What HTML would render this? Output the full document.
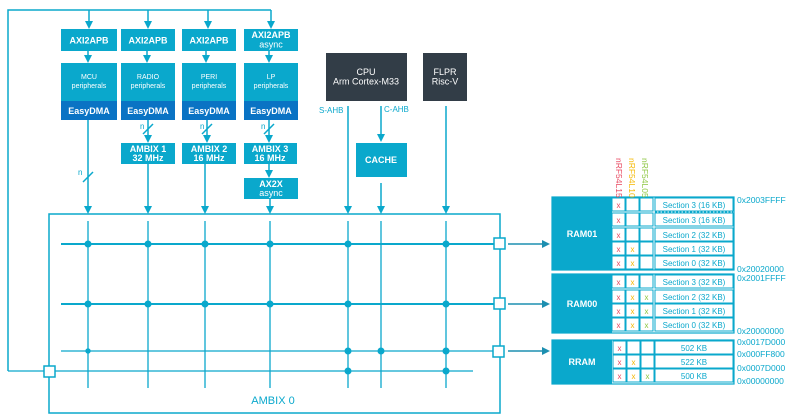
<!DOCTYPE html>
<html><head><meta charset="utf-8"><style>
html,body{margin:0;padding:0;background:#fff}
svg{display:block}
text{font-family:"Liberation Sans",sans-serif}
</style></head><body>
<svg width="796" height="415" viewBox="0 0 796 415" xmlns="http://www.w3.org/2000/svg">
<defs>
<marker id="a" markerWidth="8" markerHeight="8" refX="4" refY="4" orient="auto" markerUnits="userSpaceOnUse"><path d="M0,0 L8,4 L0,8 z" fill="#0aa8cc"/></marker>
<marker id="b" markerWidth="8" markerHeight="8" refX="6" refY="4" orient="auto" markerUnits="userSpaceOnUse"><path d="M0,0 L8,4 L0,8 z" fill="#1d8fb0"/></marker>
</defs>
<g stroke="#0aa8cc" stroke-width="1.5" fill="none">
<polyline points="8,371 8,10 271,10"/>
<line x1="89" y1="10" x2="89" y2="25" marker-end="url(#a)"/>
<line x1="148" y1="10" x2="148" y2="25" marker-end="url(#a)"/>
<line x1="208" y1="10" x2="208" y2="25" marker-end="url(#a)"/>
<line x1="271" y1="10" x2="271" y2="25" marker-end="url(#a)"/>
<line x1="88" y1="51" x2="88" y2="59" marker-end="url(#a)"/>
<line x1="147" y1="51" x2="147" y2="59" marker-end="url(#a)"/>
<line x1="206" y1="51" x2="206" y2="59" marker-end="url(#a)"/>
<line x1="269" y1="51" x2="269" y2="59" marker-end="url(#a)"/>
<line x1="148" y1="120" x2="148" y2="139" marker-end="url(#a)"/>
<line x1="207" y1="120" x2="207" y2="139" marker-end="url(#a)"/>
<line x1="269" y1="120" x2="269" y2="139" marker-end="url(#a)"/>
<line x1="269" y1="164" x2="269" y2="174" marker-end="url(#a)"/>
<line x1="88" y1="120" x2="88" y2="210" marker-end="url(#a)"/>
<line x1="148" y1="164" x2="148" y2="210" marker-end="url(#a)"/>
<line x1="205" y1="164" x2="205" y2="210" marker-end="url(#a)"/>
<line x1="270" y1="199" x2="270" y2="210" marker-end="url(#a)"/>
<line x1="348" y1="106" x2="348" y2="210" marker-end="url(#a)"/>
<line x1="381" y1="106" x2="381" y2="138" marker-end="url(#a)"/>
<line x1="381" y1="183" x2="381" y2="210" marker-end="url(#a)"/>
<line x1="446" y1="106" x2="446" y2="210" marker-end="url(#a)"/>
<line x1="83" y1="182" x2="93" y2="172"/>
<line x1="143" y1="134" x2="153" y2="124"/>
<line x1="202" y1="134" x2="212" y2="124"/>
<line x1="264" y1="134" x2="274" y2="124"/>
<rect x="49" y="214" width="451" height="199"/>
<g stroke-width="1.3">
<line x1="88" y1="221" x2="88" y2="388"/>
<line x1="148" y1="221" x2="148" y2="388"/>
<line x1="205" y1="221" x2="205" y2="388"/>
<line x1="270" y1="221" x2="270" y2="388"/>
<line x1="348" y1="221" x2="348" y2="388"/>
<line x1="381" y1="221" x2="381" y2="388"/>
<line x1="446" y1="221" x2="446" y2="388"/>
<line x1="61" y1="244" x2="495" y2="244" stroke-width="2"/>
<line x1="61" y1="304" x2="495" y2="304" stroke-width="2"/>
<line x1="61" y1="351" x2="495" y2="351"/>
<line x1="55" y1="371" x2="473" y2="371"/>
<line x1="8" y1="371" x2="44" y2="371"/>
</g>
<line x1="508" y1="244" x2="548" y2="244" stroke="#1d8fb0" marker-end="url(#b)"/>
<line x1="508" y1="304" x2="548" y2="304" stroke="#1d8fb0" marker-end="url(#b)"/>
<line x1="508" y1="351" x2="548" y2="351" stroke="#1d8fb0" marker-end="url(#b)"/>
</g>
<g fill="#fff" stroke="#0aa8cc" stroke-width="1.5">
<rect x="494" y="238" width="11" height="11"/>
<rect x="494" y="298" width="11" height="11"/>
<rect x="493" y="346" width="11" height="11"/>
<rect x="44" y="366" width="11" height="11"/>
</g>
<g fill="#0aa8cc">
<circle cx="88" cy="244" r="3.5"/><circle cx="148" cy="244" r="3.5"/><circle cx="205" cy="244" r="3.5"/><circle cx="270" cy="244" r="3.5"/><circle cx="348" cy="244" r="3.5"/><circle cx="446" cy="244" r="3.5"/>
<circle cx="88" cy="304" r="3.5"/><circle cx="148" cy="304" r="3.5"/><circle cx="205" cy="304" r="3.5"/><circle cx="270" cy="304" r="3.5"/><circle cx="348" cy="304" r="3.5"/><circle cx="446" cy="304" r="3.5"/>
<circle cx="88" cy="351" r="2.7"/><circle cx="348" cy="351" r="3.5"/><circle cx="381" cy="351" r="3.5"/><circle cx="446" cy="351" r="3.5"/>
<circle cx="348" cy="371" r="3.5"/><circle cx="446" cy="371" r="3.5"/>
</g>
<g fill="#0aa8cc">
<rect x="61" y="29" width="56" height="22"/><rect x="121" y="29" width="54" height="22"/><rect x="182" y="29" width="54" height="22"/><rect x="244" y="29" width="54" height="22"/>
<rect x="61" y="63" width="56" height="38"/><rect x="121" y="63" width="54" height="38"/><rect x="182" y="63" width="54" height="38"/><rect x="244" y="63" width="54" height="38"/>
<rect x="121" y="143" width="54" height="21"/><rect x="182" y="143" width="54" height="21"/><rect x="244" y="143" width="53" height="21"/>
<rect x="244" y="178" width="54" height="21"/>
<rect x="356" y="143" width="51" height="34"/>
</g>
<g fill="#0a73c4">
<rect x="61" y="101" width="56" height="19"/><rect x="121" y="101" width="54" height="19"/><rect x="182" y="101" width="54" height="19"/><rect x="244" y="101" width="54" height="19"/>
</g>
<g fill="#323d47"><rect x="326" y="53" width="81" height="48"/><rect x="423" y="53" width="44" height="48"/></g>
<g fill="#fff" font-size="9" text-anchor="middle" font-weight="bold">
<text x="89" y="43.5">AXI2APB</text><text x="148" y="43.5">AXI2APB</text><text x="209" y="43.5">AXI2APB</text>
<text x="271" y="38">AXI2APB</text><text x="271" y="47.5" font-weight="normal">async</text>
<g font-size="7" font-weight="normal"><text x="89" y="79">MCU</text><text x="89" y="88">peripherals</text>
<text x="148" y="79">RADIO</text><text x="148" y="88">peripherals</text>
<text x="209" y="79">PERI</text><text x="209" y="88">peripherals</text>
<text x="271" y="79">LP</text><text x="271" y="88">peripherals</text></g>
<text x="89" y="114">EasyDMA</text><text x="148" y="114">EasyDMA</text><text x="209" y="114">EasyDMA</text><text x="271" y="114">EasyDMA</text>
<text x="148" y="152">AMBIX 1</text><text x="148" y="161">32 MHz</text>
<text x="209" y="152">AMBIX 2</text><text x="209" y="161">16 MHz</text>
<text x="270" y="152">AMBIX 3</text><text x="270" y="161">16 MHz</text>
<text x="271" y="187">AX2X</text><text x="271" y="196" font-weight="normal">async</text>
<text x="381" y="163">CACHE</text>
<g font-weight="normal"><text x="366" y="75">CPU</text><text x="366" y="84.5">Arm Cortex-M33</text>
<text x="445" y="75">FLPR</text><text x="445" y="84.5">Risc-V</text></g>
</g>
<g fill="#0aa8cc" font-size="8">
<text x="319" y="113">S-AHB</text><text x="384" y="112">C-AHB</text>
<text x="78" y="175">n</text><text x="140" y="129">n</text><text x="200" y="129">n</text><text x="261" y="129">n</text>
<text x="273" y="404" font-size="11" text-anchor="middle">AMBIX 0</text>
</g>
<g fill="#0aa8cc">
<rect x="552" y="197" width="60" height="73"/><rect x="552" y="274" width="60" height="59"/><rect x="552" y="340" width="60" height="44"/>
</g>
<g fill="#fff" font-size="9" text-anchor="middle" font-weight="bold"><text x="582" y="237">RAM01</text><text x="582" y="307">RAM00</text><text x="582" y="365">RRAM</text></g>
<g fill="none" stroke="#0aa8cc" stroke-width="1.2">
<rect x="552" y="197" width="182" height="73"/>
<rect x="552" y="274" width="182" height="59"/>
<rect x="552" y="340" width="182" height="44"/>
</g>
<g fill="#fff" stroke="#0aa8cc" stroke-width="1">
<rect x="612" y="198" width="13" height="13"/><rect x="626" y="198" width="13" height="13"/><rect x="640" y="198" width="13" height="13"/><rect x="655" y="198" width="78" height="13"/>
<rect x="612" y="213" width="13" height="13"/><rect x="626" y="213" width="13" height="13"/><rect x="640" y="213" width="13" height="13"/><rect x="655" y="213" width="78" height="13"/>
<rect x="612" y="228" width="13" height="13"/><rect x="626" y="228" width="13" height="13"/><rect x="640" y="228" width="13" height="13"/><rect x="655" y="228" width="78" height="13"/>
<rect x="612" y="242" width="13" height="13"/><rect x="626" y="242" width="13" height="13"/><rect x="640" y="242" width="13" height="13"/><rect x="655" y="242" width="78" height="13"/>
<rect x="612" y="256" width="13" height="13"/><rect x="626" y="256" width="13" height="13"/><rect x="640" y="256" width="13" height="13"/><rect x="655" y="256" width="78" height="13"/>
<rect x="612" y="275" width="13" height="13"/><rect x="626" y="275" width="13" height="13"/><rect x="640" y="275" width="13" height="13"/><rect x="655" y="275" width="78" height="13"/>
<rect x="612" y="290" width="13" height="13"/><rect x="626" y="290" width="13" height="13"/><rect x="640" y="290" width="13" height="13"/><rect x="655" y="290" width="78" height="13"/>
<rect x="612" y="304" width="13" height="13"/><rect x="626" y="304" width="13" height="13"/><rect x="640" y="304" width="13" height="13"/><rect x="655" y="304" width="78" height="13"/>
<rect x="612" y="318" width="13" height="13"/><rect x="626" y="318" width="13" height="13"/><rect x="640" y="318" width="13" height="13"/><rect x="655" y="318" width="78" height="13"/>
<rect x="613" y="341" width="13" height="13"/><rect x="627" y="341" width="13" height="13"/><rect x="641" y="341" width="13" height="13"/><rect x="655" y="341" width="78" height="13"/>
<rect x="613" y="355" width="13" height="13"/><rect x="627" y="355" width="13" height="13"/><rect x="641" y="355" width="13" height="13"/><rect x="655" y="355" width="78" height="13"/>
<rect x="613" y="369" width="13" height="13"/><rect x="627" y="369" width="13" height="13"/><rect x="641" y="369" width="13" height="13"/><rect x="655" y="369" width="78" height="13"/>
</g>
<line x1="655" y1="212" x2="733" y2="212" stroke="#0aa8cc" stroke-width="1" stroke-dasharray="2,1.5"/>
<g font-size="8" text-anchor="middle">
<g fill="#e8475f">
<text x="618.5" y="208">x</text><text x="618.5" y="223">x</text><text x="618.5" y="238">x</text><text x="618.5" y="252">x</text><text x="618.5" y="266">x</text>
<text x="618.5" y="285">x</text><text x="618.5" y="300">x</text><text x="618.5" y="314">x</text><text x="618.5" y="328">x</text>
<text x="619.5" y="351">x</text><text x="619.5" y="365">x</text><text x="619.5" y="379">x</text></g>
<g fill="#f5b800">
<text x="632.5" y="252">x</text><text x="632.5" y="266">x</text>
<text x="632.5" y="285">x</text><text x="632.5" y="300">x</text><text x="632.5" y="314">x</text><text x="632.5" y="328">x</text>
<text x="633.5" y="365">x</text><text x="633.5" y="379">x</text></g>
<g fill="#8cc63f"><text x="646.5" y="300">x</text><text x="646.5" y="314">x</text><text x="646.5" y="328">x</text><text x="647.5" y="379">x</text></g>
<g fill="#0aa8cc">
<text x="694" y="208">Section 3 (16 KB)</text><text x="694" y="223">Section 3 (16 KB)</text><text x="694" y="238">Section 2 (32 KB)</text><text x="694" y="252">Section 1 (32 KB)</text><text x="694" y="266">Section 0 (32 KB)</text>
<text x="694" y="285">Section 3 (32 KB)</text><text x="694" y="300">Section 2 (32 KB)</text><text x="694" y="314">Section 1 (32 KB)</text><text x="694" y="328">Section 0 (32 KB)</text>
<text x="694" y="351">502 KB</text><text x="694" y="365">522 KB</text><text x="694" y="379">500 KB</text>
</g>
</g>
<g font-size="8.5" fill="#0aa8cc">
<text x="737" y="203">0x2003FFFF</text><text x="737" y="272">0x20020000</text><text x="737" y="281">0x2001FFFF</text><text x="737" y="334">0x20000000</text>
<text x="737" y="345">0x0017D000</text><text x="737" y="357">0x000FF800</text><text x="737" y="371">0x0007D000</text><text x="737" y="384">0x00000000</text>
</g>
<g font-size="8.5">
<text transform="translate(616,158) rotate(90)" fill="#e8475f">nRF54L15</text>
<text transform="translate(629,158) rotate(90)" fill="#f5b800">nRF54L10</text>
<text transform="translate(642,158) rotate(90)" fill="#8cc63f">nRF54L05</text>
</g>
</svg>
</body></html>
